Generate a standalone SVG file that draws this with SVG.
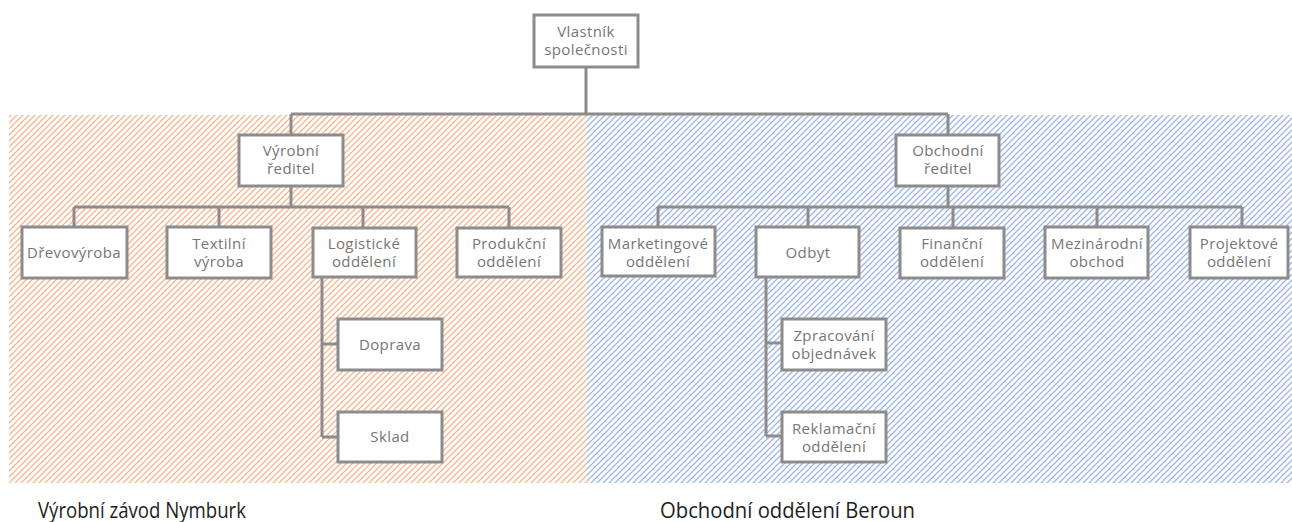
<svg xmlns="http://www.w3.org/2000/svg" width="1292" height="522" viewBox="0 0 1292 522">
  <defs>
    <pattern id="hatchOrange" patternUnits="userSpaceOnUse" x="0" y="0" width="6" height="6">
      <path d="M-1 1 L1 -1 M0 6 L6 0 M5 7 L7 5" stroke="#f5b68e" stroke-width="1.3" fill="none"/>
    </pattern>
    <pattern id="hatchBlue" patternUnits="userSpaceOnUse" x="0" y="0" width="6" height="6">
      <path d="M-1 1 L1 -1 M0 6 L6 0 M5 7 L7 5" stroke="#9db6e6" stroke-width="1.3" fill="none"/>
    </pattern>
    <style>
      .box { fill: #ffffff; stroke: #8c8c8c; stroke-width: 3; }
      .conn { fill: none; stroke: #8c8c8c; stroke-width: 3; }
      .lbl { font-family: "Open Sans", "Liberation Sans", sans-serif; font-size: 15px; fill: #767676; text-anchor: middle; letter-spacing: 0.4px; }
      .area { font-family: "Open Sans", "Liberation Sans", sans-serif; font-size: 22px; fill: #1e1e1e; }
    </style>
  </defs>

  <!-- shaded site areas -->
  <g id="areas">
    <rect x="9" y="115" width="578" height="368" fill="url(#hatchOrange)"/>
    <rect x="587" y="115" width="705" height="368" fill="url(#hatchBlue)"/>
  </g>

  <!-- connectors -->
  <g id="connectors" class="conn">
    <path d="M586 68 V114 M291 114 H948 M291 114 V134 M948 114 V134"/>
    <path d="M291 187 V207 M74 207 H509 M74 207 V226 M219 207 V226 M363 207 V227 M509 207 V227"/>
    <path d="M322 278 V437 M322 344 H337 M322 437 H337"/>
    <path d="M948 187 V207 M658 207 H1242 M658 207 V226 M808 207 V226 M953 207 V227 M1097 207 V226 M1242 207 V226"/>
    <path d="M766 278 V436 M766 343 H781 M766 436 H781"/>
  </g>

  <g id="owner">
    <rect class="box" x="534" y="15" width="104" height="52"/>
    <text class="lbl" x="586" y="37">Vlastník</text>
    <text class="lbl" x="586" y="55">společnosti</text>
  </g>

  <g id="production-director">
    <rect class="box" x="239" y="135" width="104" height="51"/>
    <text class="lbl" x="291" y="156">Výrobní</text>
    <text class="lbl" x="291" y="174">ředitel</text>
  </g>

  <g id="sales-director">
    <rect class="box" x="896" y="135" width="103" height="51"/>
    <text class="lbl" x="948" y="156">Obchodní</text>
    <text class="lbl" x="948" y="174">ředitel</text>
  </g>

  <g id="woodwork">
    <rect class="box" x="22" y="227" width="105" height="51"/>
    <text class="lbl" x="74" y="258">Dřevovýroba</text>
  </g>

  <g id="textile">
    <rect class="box" x="167" y="227" width="104" height="51"/>
    <text class="lbl" x="219" y="249">Textilní</text>
    <text class="lbl" x="219" y="267">výroba</text>
  </g>

  <g id="logistics">
    <rect class="box" x="313" y="228" width="103" height="49"/>
    <text class="lbl" x="364" y="249">Logistické</text>
    <text class="lbl" x="364" y="267">oddělení</text>
  </g>

  <g id="product">
    <rect class="box" x="457" y="228" width="104" height="49"/>
    <text class="lbl" x="509" y="249">Produkční</text>
    <text class="lbl" x="509" y="267">oddělení</text>
  </g>

  <g id="transport">
    <rect class="box" x="338" y="319" width="104" height="51"/>
    <text class="lbl" x="390" y="350">Doprava</text>
  </g>

  <g id="warehouse">
    <rect class="box" x="338" y="412" width="104" height="50"/>
    <text class="lbl" x="390" y="442">Sklad</text>
  </g>

  <g id="marketing">
    <rect class="box" x="602" y="227" width="113" height="49"/>
    <text class="lbl" x="658" y="249">Marketingové</text>
    <text class="lbl" x="658" y="267">oddělení</text>
  </g>

  <g id="sales">
    <rect class="box" x="756" y="227" width="103" height="50"/>
    <text class="lbl" x="808" y="258">Odbyt</text>
  </g>

  <g id="finance">
    <rect class="box" x="900" y="228" width="104" height="50"/>
    <text class="lbl" x="952" y="249">Finanční</text>
    <text class="lbl" x="952" y="267">oddělení</text>
  </g>

  <g id="international">
    <rect class="box" x="1045" y="227" width="103" height="51"/>
    <text class="lbl" x="1097" y="249">Mezinárodní</text>
    <text class="lbl" x="1097" y="267">obchod</text>
  </g>

  <g id="projects">
    <rect class="box" x="1190" y="227" width="98" height="51"/>
    <text class="lbl" x="1239" y="249">Projektové</text>
    <text class="lbl" x="1239" y="267">oddělení</text>
  </g>

  <g id="order-processing">
    <rect class="box" x="782" y="319" width="104" height="51"/>
    <text class="lbl" x="834" y="341">Zpracování</text>
    <text class="lbl" x="834" y="359">objednávek</text>
  </g>

  <g id="complaints">
    <rect class="box" x="782" y="412" width="104" height="50"/>
    <text class="lbl" x="834" y="434">Reklamační</text>
    <text class="lbl" x="834" y="452">oddělení</text>
  </g>

  <!-- site captions -->
  <text class="area" x="38" y="518" textLength="208" lengthAdjust="spacingAndGlyphs">Výrobní závod Nymburk</text>
  <text class="area" x="660" y="518" textLength="255" lengthAdjust="spacingAndGlyphs">Obchodní oddělení Beroun</text>
</svg>
